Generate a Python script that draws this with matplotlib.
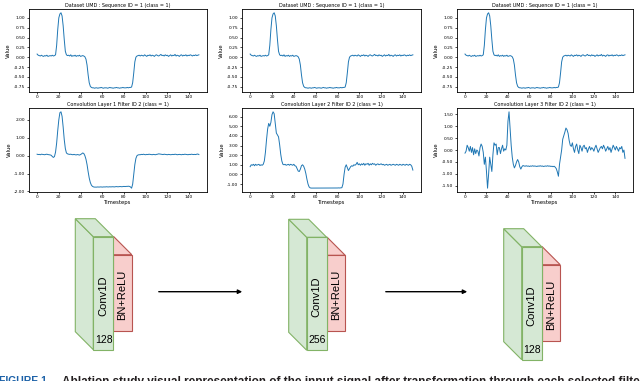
import numpy as np
import matplotlib
matplotlib.use('Agg')
import matplotlib.pyplot as plt
from matplotlib.patches import Polygon, Rectangle

# 输入序列 (UMD, Sequence ID = 1)
umd_values = [0.08, 0.05, 0.04, 0.03, 0.05, 0.03, 0.02, 0.04, 0.03, 0.05, 0.02, 0.03, 0.04, 0.03, 0.05, 0.03, 0.04,
              0.06, 0.30, 0.70, 1.00, 1.10, 1.13, 1.05, 0.80, 0.45, 0.15, 0.06,
              0.04, 0.05, 0.03, 0.06, 0.02, 0.04, 0.03, 0.05, 0.02, 0.04, 0.03, 0.05, 0.02, 0.03, 0.04, 0.03, 0.01,
              -0.05, -0.20, -0.45, -0.65, -0.74, -0.77, -0.78,
              -0.78, -0.79, -0.78, -0.78, -0.79, -0.78, -0.78, -0.77, -0.78, -0.79,
              -0.78, -0.78, -0.78, -0.79, -0.78, -0.77, -0.78, -0.78, -0.79, -0.78,
              -0.78, -0.77, -0.78, -0.78, -0.79, -0.78, -0.78, -0.77, -0.78, -0.78,
              -0.78, -0.77, -0.78, -0.77, -0.77, -0.76,
              -0.65, -0.40, -0.12, 0.00, 0.03,
              0.04, 0.05, 0.03, 0.05, 0.04, 0.03, 0.06, 0.04, 0.02, 0.05,
              0.04, 0.06, 0.03, 0.05, 0.04, 0.02, 0.05, 0.06, 0.04, 0.03,
              0.05, 0.07, 0.04, 0.05, 0.03, 0.06, 0.04, 0.05, 0.02, 0.04,
              0.06, 0.03, 0.05, 0.04, 0.07, 0.03, 0.05, 0.04, 0.02, 0.05,
              0.06, 0.03, 0.05, 0.04, 0.06, 0.03, 0.05, 0.04, 0.06, 0.05,
              0.03, 0.05, 0.04, 0.06, 0.04, 0.05, 0.06]

# 卷积层1 滤波器2
conv1_values = [0.08, 0.06, 0.07, 0.05, 0.08, 0.07, 0.06, 0.05, 0.07, 0.08, 0.06, 0.05, 0.04, 0.02, -0.05,
                -0.10, -0.05, 0.20, 0.70, 1.40, 2.00, 2.40, 2.45, 2.20, 1.60, 0.90, 0.40, 0.15, 0.10, 0.08, 0.07,
                0.08, 0.06, 0.05, 0.07, 0.05, 0.04, 0.06, 0.05, 0.03, 0.06, 0.10, 0.15, 0.12, 0.00,
                -0.20, -0.50, -0.90, -1.25, -1.50, -1.65, -1.72, -1.75, -1.76,
                -1.76, -1.76, -1.75, -1.76, -1.75, -1.75, -1.76, -1.75, -1.75, -1.75,
                -1.74, -1.75, -1.75, -1.74, -1.75, -1.74, -1.74, -1.75, -1.74, -1.73,
                -1.74, -1.74, -1.73, -1.73, -1.74, -1.73, -1.72, -1.73, -1.72, -1.72,
                -1.71, -1.72,
                -1.75, -1.82, -1.60, -1.05, -0.50, -0.15, 0.00, 0.04, 0.05,
                0.05, 0.07, 0.06, 0.08, 0.06, 0.05, 0.07, 0.06, 0.08, 0.07,
                0.06, 0.05, 0.07, 0.06, 0.05, 0.07, 0.08, 0.10, 0.09, 0.08,
                0.07, 0.06, 0.08, 0.07, 0.06, 0.05, 0.07, 0.06, 0.05, 0.06,
                0.07, 0.06, 0.08, 0.07, 0.05, 0.06, 0.07, 0.06, 0.05, 0.07,
                0.06, 0.08, 0.07, 0.06, 0.05, 0.07, 0.06, 0.08, 0.07, 0.06,
                0.07, 0.06, 0.08, 0.09, 0.06]

# 卷积层2 滤波器2
conv2_values = [0.80, 1.00, 0.95, 1.05, 0.90, 1.05, 0.95, 1.00, 1.05, 0.92, 1.00, 0.95, 1.05,
                1.40, 2.30, 3.60, 4.70, 5.30, 5.00, 5.40, 6.20, 6.50, 6.30, 5.30, 4.30, 4.10, 3.90, 3.10, 2.10,
                1.40, 1.05, 1.00,
                1.05, 0.95, 1.00, 1.05, 0.95, 1.05, 1.00, 0.95, 1.05, 0.90, 0.85, 0.60,
                0.35, 0.30, 0.55, 0.90, 1.00, 0.85, 0.55, 0.10, -0.50, -1.00, -1.30, -1.40, -1.42,
                -1.42, -1.43, -1.42, -1.42, -1.43, -1.42, -1.41, -1.42, -1.42, -1.43,
                -1.42, -1.42, -1.41, -1.42, -1.42, -1.43, -1.42, -1.41, -1.42, -1.42,
                -1.42, -1.41, -1.42, -1.41, -1.40, -1.41, -1.40, -1.38,
                -1.00, 0.00, 0.75, 1.00, 0.70, 0.40, 0.60, 0.80, 0.90, 0.85, 1.00, 0.95, 1.05, 1.25, 1.00,
                1.10, 0.95, 1.10, 1.00, 1.15, 0.95, 1.10, 1.05, 1.15, 0.95,
                1.10, 1.00, 1.15, 1.05, 1.10, 0.95, 1.05, 1.10, 1.00, 1.05,
                1.10, 1.00, 1.05, 0.95, 1.00, 1.05, 0.95, 1.00, 1.05, 0.95,
                1.00, 1.05, 1.00, 0.95, 1.05, 1.00, 0.95, 1.05, 1.00, 0.95,
                1.05, 1.00, 0.95, 1.05, 1.00, 0.95, 1.05, 1.00, 0.85, 0.45]

# 卷积层3 滤波器2
conv3_values = [-0.13, -0.05, 0.20, 0.10, -0.05, 0.15, -0.10, 0.10, -0.20, 0.05,
                -0.15, 0.00, -0.05, -0.25, 0.10, 0.25, 0.15, -0.10, -0.60, -0.30,
                -0.90, -1.60, -1.00, -0.30, -0.60, -0.90, -0.20, 0.30, 0.20, 0.25,
                -0.20, 0.10, 0.10, -0.15, 0.05, 0.20, -0.05, 0.05, 0.00, 0.20,
                1.20, 1.60, 0.90, 0.20, -0.30, -0.60, -0.75, -0.65, -0.50, -0.40,
                -0.50, -0.70, -0.80, -0.70, -0.65,
                -0.67, -0.68, -0.66, -0.68, -0.67, -0.69, -0.67, -0.68, -0.66, -0.68,
                -0.67, -0.68, -0.69, -0.67, -0.68, -0.66, -0.68, -0.67, -0.69, -0.68,
                -0.67, -0.68, -0.66, -0.68, -0.67, -0.69, -0.68, -0.70, -0.68, -0.72,
                -0.78, -0.92, -1.10, -0.60, -0.30, 0.00, 0.45, 0.60, 0.75, 0.92,
                0.85, 0.70, 0.40, 0.20, 0.15,
                0.30, 0.05, -0.10, 0.15, 0.25, 0.00, -0.15, 0.20, 0.10, -0.05,
                0.15, 0.20, 0.05, 0.10, -0.10, 0.05, 0.15, 0.00, 0.10, 0.05,
                -0.05, 0.10, 0.20, 0.05, -0.10, 0.00, 0.10, 0.15, 0.05, 0.20,
                0.10, -0.05, 0.05, 0.15, 0.00, 0.10, -0.10, 0.05, 0.20, 0.10,
                0.00, 0.15, 0.05, -0.05, 0.10, 0.05, 0.15, -0.10, 0.00, -0.35]

top_title = 'Dataset UMD : Sequence ID = 1 (class = 1)'
conv_titles = ['Convolution Layer 1 Filter ID 2 (class = 1)',
               'Convolution Layer 2 Filter ID 2 (class = 1)',
               'Convolution Layer 3 Filter ID 2 (class = 1)']
conv_series = [conv1_values, conv2_values, conv3_values]
conv_yticks = [[-2, -1, 0, 1, 2],
               [-1, 0, 1, 2, 3, 4, 5, 6],
               [-1.5, -1.0, -0.5, 0.0, 0.5, 1.0, 1.5]]
top_yticks = [-0.75, -0.5, -0.25, 0.0, 0.25, 0.5, 0.75, 1.0]
x_ticks = [0, 20, 40, 60, 80, 100, 120, 140]

block_labels = ['128', '256', '128']
caption_head = 'FIGURE 1'
caption_body = ('Ablation study visual representation of the input signal after '
                'transformation through each selected filter')

W, H = 640, 381
fig = plt.figure(figsize=(6.4, 3.81), dpi=100)

# 底部示意图（像素坐标）
axd = fig.add_axes([0, 0, 1, 1])
axd.set_xlim(0, W)
axd.set_ylim(H, 0)
axd.axis('off')


def px_axes(x0, y0, x1, y1):
    return fig.add_axes([x0 / W, 1 - y1 / H, (x1 - x0) / W, (y1 - y0) / H])


def style(ax, title, yticks, xlabel=None):
    ax.set_title(title, fontsize=3.5, pad=1.5)
    ax.set_xticks(x_ticks)
    ax.set_yticks(yticks)
    ax.yaxis.set_major_formatter(matplotlib.ticker.FormatStrFormatter('%.2f'))
    ax.tick_params(labelsize=3.2, length=1.5, width=0.5, pad=1)
    ax.set_ylabel('Value', fontsize=3.8, labelpad=2)
    if xlabel:
        ax.set_xlabel(xlabel, fontsize=3.8, labelpad=0.5)
    for s in ax.spines.values():
        s.set_linewidth(0.6)


cols = [(29, 207), (242, 421), (457, 633)]
for (x0, x1) in cols:
    ax = px_axes(x0, 9, x1, 92)
    ax.plot(np.arange(len(umd_values)), umd_values, color='#1f77b4', lw=0.7)
    style(ax, top_title, top_yticks)

for (x0, x1), vals, t, yt in zip(cols, conv_series, conv_titles, conv_yticks):
    ax = px_axes(x0, 108, x1, 192)
    ax.plot(np.arange(len(vals)), vals, color='#1f77b4', lw=0.7)
    style(ax, t, yt, 'Timesteps')

# 三维块
g_fill, g_edge = '#d5e8d4', '#82b366'
r_fill, r_edge = '#f8cecc', '#b85450'
dx, dy = -18, -18
fw, fh = 20, 113
rw, r_top, r_bot = 18.5, 18, 94


def draw_block(x, y, label):
    rx = x + fw
    # 红色块
    axd.add_patch(Polygon([(rx + dx, y + r_top + dy), (rx + rw + dx, y + r_top + dy),
                           (rx + rw, y + r_top), (rx, y + r_top)],
                          closed=True, fc=r_fill, ec=r_edge, lw=0.8))
    axd.add_patch(Rectangle((rx, y + r_top), rw, r_bot - r_top, fc=r_fill, ec=r_edge, lw=0.8))
    # 绿色块
    axd.add_patch(Polygon([(x + dx, y + dy), (x, y), (x, y + fh), (x + dx, y + fh + dy)],
                          closed=True, fc=g_fill, ec=g_edge, lw=0.8))
    axd.add_patch(Polygon([(x + dx, y + dy), (x + fw + dx, y + dy), (x + fw, y), (x, y)],
                          closed=True, fc=g_fill, ec=g_edge, lw=0.8))
    axd.add_patch(Rectangle((x, y), fw, fh, fc=g_fill, ec=g_edge, lw=0.8))
    axd.text(x + fw / 2, y + 59, 'Conv1D', rotation=90, ha='center', va='center',
             fontsize=8, family='Liberation Sans')
    axd.text(rx + rw / 2, y + 58, 'BN+ReLU', rotation=90, ha='center', va='center',
             fontsize=8, family='Liberation Sans')
    axd.text(x + fw / 2 + 0.5, y + 103, label, ha='center', va='center',
             fontsize=7.5, family='Liberation Sans')


block_pos = [(93.3, 236.7), (306.7, 237.3), (521.7, 246.7)]
for (bx, by), lab in zip(block_pos, block_labels):
    draw_block(bx, by, lab)

for xa, xb in [(156, 245), (383, 470)]:
    axd.annotate('', xy=(xb, 291.7), xytext=(xa, 291.7),
                 arrowprops=dict(arrowstyle='-|>', lw=1.0, color='black', mutation_scale=6))

# 图注（底部被裁切）
axd.text(-1, 376, caption_head, ha='left', va='top', fontsize=7.5, fontweight='bold',
         color='#1d62a8', family='Liberation Sans')
axd.text(61.7, 376, caption_body, ha='left', va='top', fontsize=8.5, fontweight='bold',
         color='#231f20', family='Liberation Sans')

fig.savefig('out.png', dpi=100)
